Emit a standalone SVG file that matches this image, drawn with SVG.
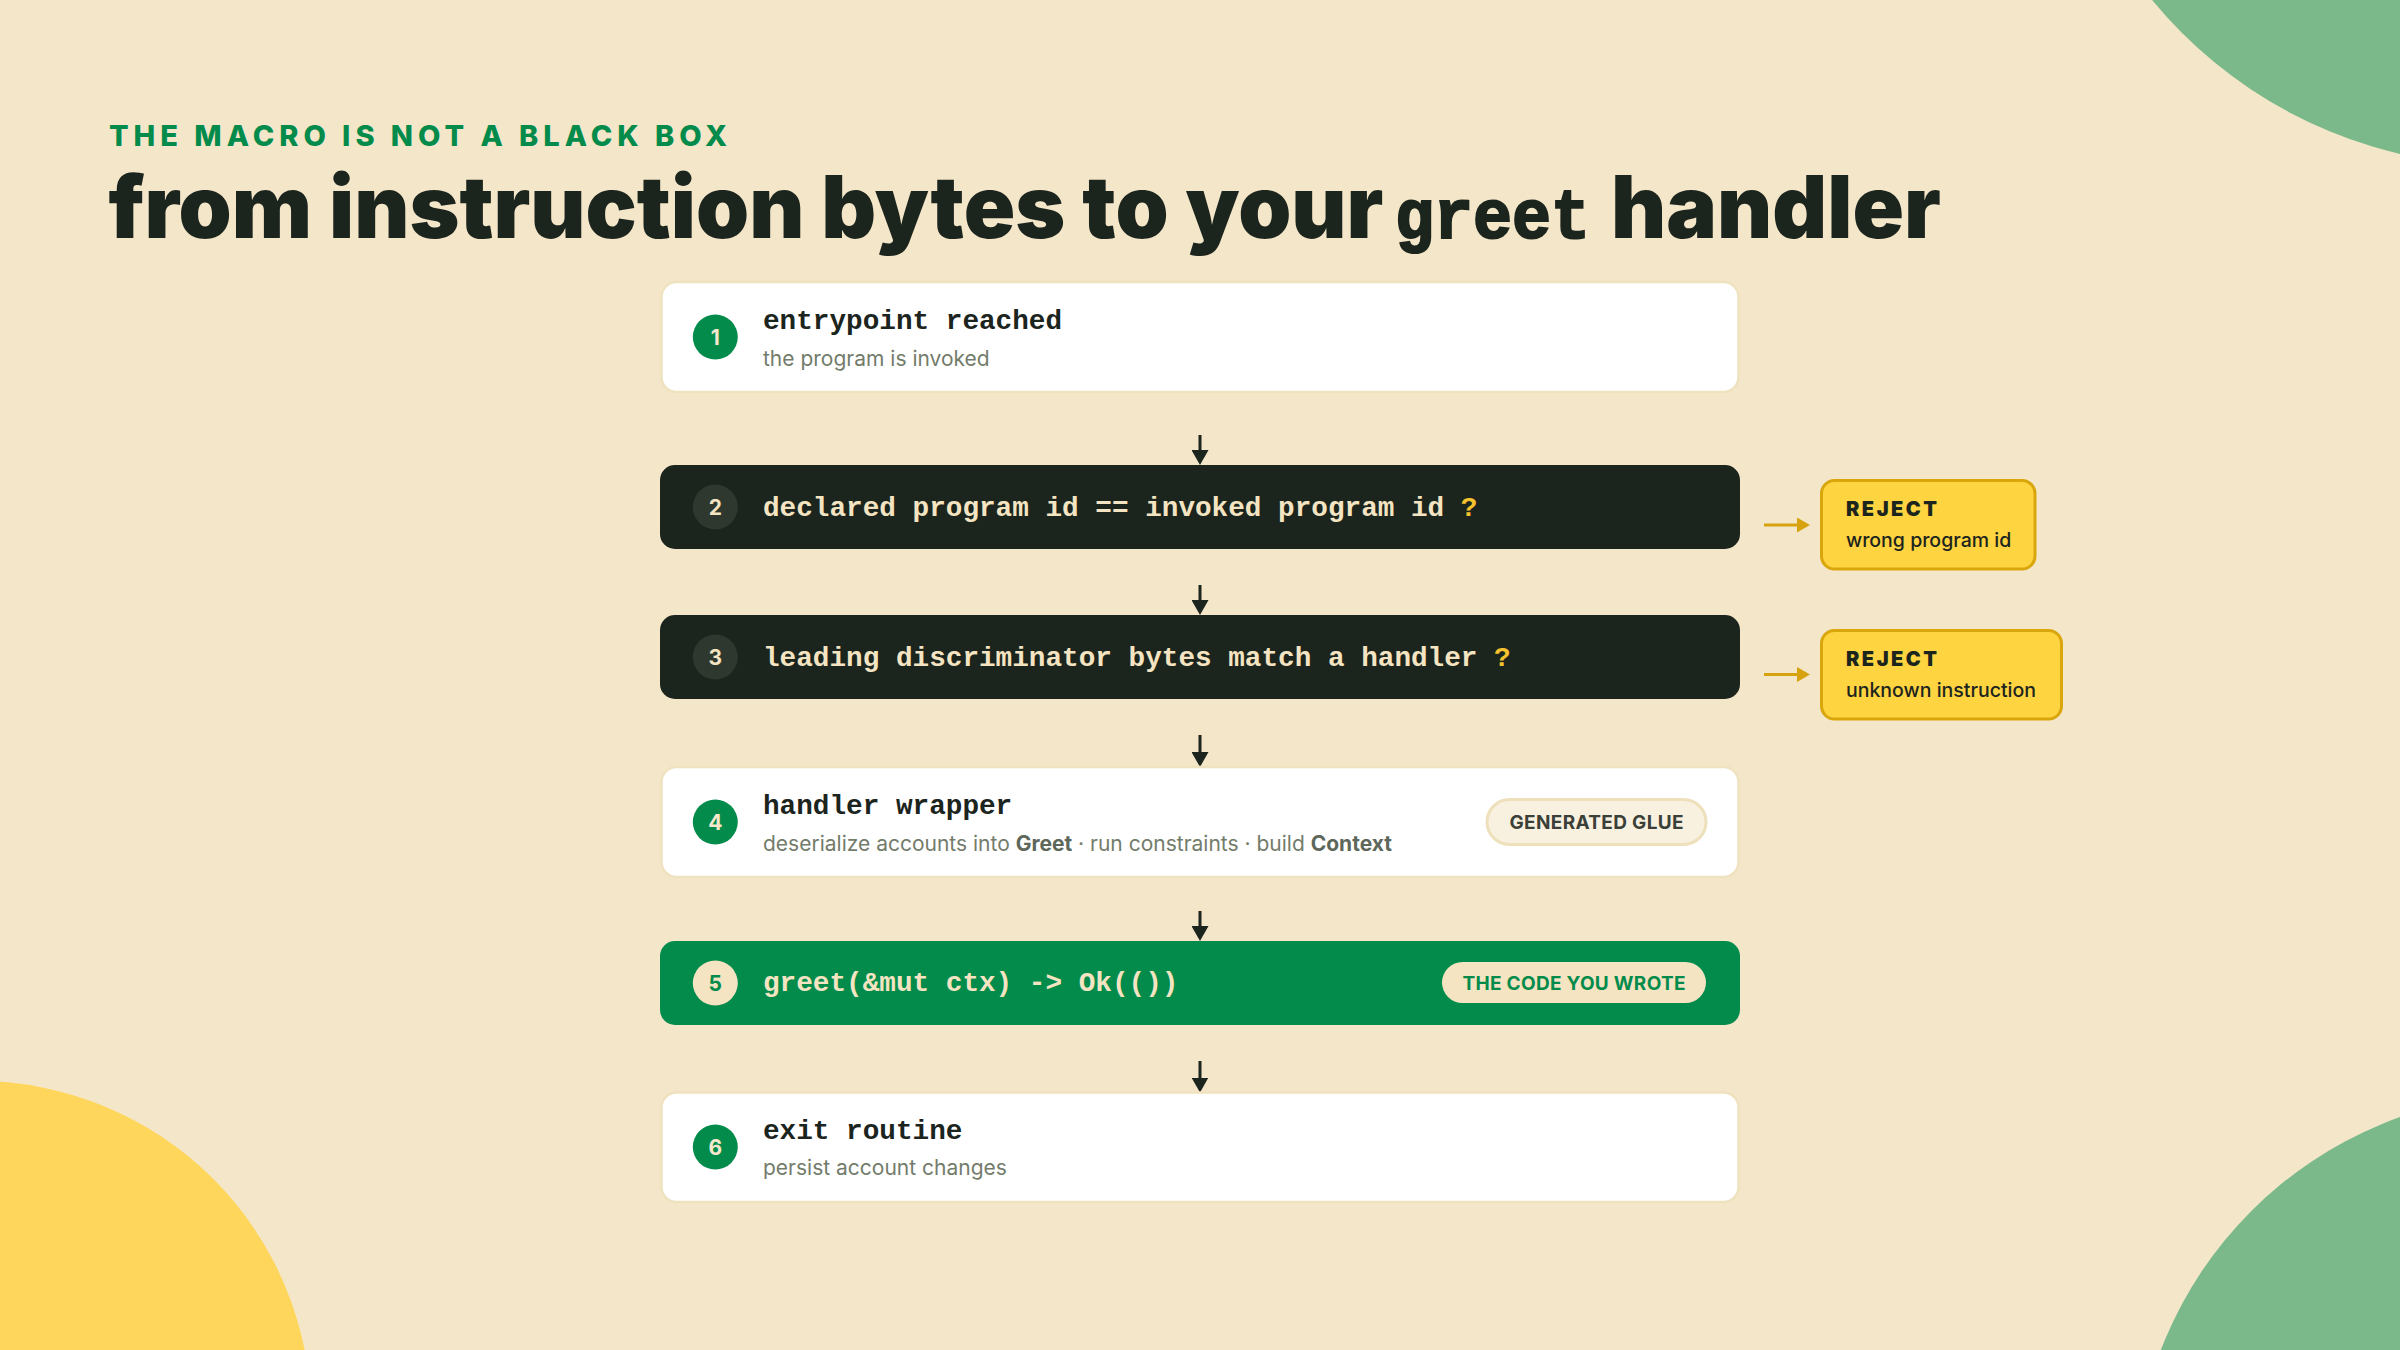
<svg xmlns="http://www.w3.org/2000/svg" width="2400" height="1350" viewBox="0 0 2400 1350">
<defs>
<style>
.bg{fill:#f4e6c8}
.card{fill:#ffffff;stroke:#efe2bf;stroke-width:2.5}
.dark{fill:#1c241e}
.green{fill:#038b4c}
.mono{font-family:"Liberation Mono","DejaVu Sans Mono",monospace;font-weight:700;font-size:27.7px}
.ttl{fill:#1c241e}
.ttlc{fill:#f4e4c2}
.sub{font-family:Inter,"Noto Sans",sans-serif;font-size:21px;fill:#737c6b}
.subb{font-weight:700;fill:#5d675a}
.num{font-family:Inter,"Noto Sans",sans-serif;font-weight:700;font-size:21px;text-anchor:middle}
.q{fill:#f5c12e}
.rej{fill:#fed440;stroke:#d9a60b;stroke-width:3}
.rejh{font-family:Inter,"Noto Sans",sans-serif;font-weight:900;font-size:20px;fill:#1c241e}
.rejt{font-family:Inter,"Noto Sans",sans-serif;font-weight:500;font-size:19.5px;fill:#1c241e}
.badge{font-family:Inter,"Noto Sans",sans-serif;font-weight:700;font-size:19px;text-anchor:middle}
.flow{stroke:#1c241e;stroke-width:3;fill:none}
.rflow{stroke:#d6a30f;stroke-width:3;fill:none}
</style>
<marker id="ah" markerUnits="userSpaceOnUse" markerWidth="17" markerHeight="17" refX="3" refY="8.5" orient="auto">
<path d="M0,0 L15,8.5 L0,17 Z" fill="#1c241e"/>
</marker>
<marker id="rah" markerUnits="userSpaceOnUse" markerWidth="14" markerHeight="15" refX="3" refY="7.5" orient="auto">
<path d="M0,0 L13,7.5 L0,15 Z" fill="#d6a30f"/>
</marker>
</defs>

<rect class="bg" x="0" y="0" width="2400" height="1350"/>
<circle cx="2504" cy="-290" r="456" fill="#7bb98b"/>
<circle cx="-23" cy="1415" r="334" fill="#fed65b"/>
<circle cx="2534" cy="1494" r="400" fill="#7bb98b"/>

<g id="title">
<text x="109" y="146" font-family="Inter,'Noto Sans',sans-serif" font-weight="800" font-size="29" fill="#038b4c" textLength="618" lengthAdjust="spacing">THE MACRO IS NOT A BLACK BOX</text>
<text x="108.5" y="238" font-family="Inter,'Noto Sans',sans-serif" font-weight="900" font-size="86" fill="#1c241e" textLength="1275" lengthAdjust="spacingAndGlyphs">from instruction bytes to your</text>
<text x="1395" y="238" font-family="'Liberation Mono','DejaVu Sans Mono',monospace" font-weight="700" font-size="70" fill="#1c241e" stroke="#1c241e" stroke-width="2.2" textLength="195" lengthAdjust="spacingAndGlyphs">greet</text>
<text x="1611" y="238" font-family="Inter,'Noto Sans',sans-serif" font-weight="900" font-size="86" fill="#1c241e" textLength="330" lengthAdjust="spacingAndGlyphs">handler</text>
</g>

<g id="connectors">
<line class="flow" x1="1200" y1="435" x2="1200" y2="453" marker-end="url(#ah)"/>
<line class="flow" x1="1200" y1="585" x2="1200" y2="603" marker-end="url(#ah)"/>
<line class="flow" x1="1200" y1="735" x2="1200" y2="755" marker-end="url(#ah)"/>
<line class="flow" x1="1200" y1="911" x2="1200" y2="929" marker-end="url(#ah)"/>
<line class="flow" x1="1200" y1="1061" x2="1200" y2="1080.5" marker-end="url(#ah)"/>
<line class="rflow" x1="1764" y1="525" x2="1800" y2="525" marker-end="url(#rah)"/>
<line class="rflow" x1="1764" y1="674.5" x2="1800" y2="674.5" marker-end="url(#rah)"/>
</g>

<g id="node1">
<rect class="card" x="661.5" y="282" width="1077" height="110" rx="15"/>
<circle cx="715.3" cy="337" r="22.5" fill="#038b4c"/>
<text class="num" x="715.3" y="344.5" fill="#f5e8cc">1</text>
<text class="mono ttl" x="763" y="329">entrypoint reached</text>
<text class="sub" x="763" y="366">the program is invoked</text>
</g>

<g id="node2">
<rect class="dark" x="660" y="465" width="1080" height="84" rx="15"/>
<circle cx="715.3" cy="507" r="22.5" fill="#2e382f"/>
<text class="num" x="715.3" y="514.5" fill="#f4e4c2">2</text>
<text class="mono ttlc" x="763" y="516">declared program id == invoked program id <tspan class="q">?</tspan></text>
</g>

<g id="reject1">
<rect class="rej" x="1821.5" y="480.5" width="213.5" height="88.5" rx="13"/>
<text class="rejh" x="1846" y="516" textLength="91" lengthAdjust="spacing">REJECT</text>
<text class="rejt" x="1846" y="547">wrong program id</text>
</g>

<g id="node3">
<rect class="dark" x="660" y="615" width="1080" height="84" rx="15"/>
<circle cx="715.3" cy="657" r="22.5" fill="#2e382f"/>
<text class="num" x="715.3" y="664.5" fill="#f4e4c2">3</text>
<text class="mono ttlc" x="763" y="666">leading discriminator bytes match a handler <tspan class="q">?</tspan></text>
</g>

<g id="reject2">
<rect class="rej" x="1821.5" y="630.5" width="240" height="88.5" rx="13"/>
<text class="rejh" x="1846" y="666" textLength="91" lengthAdjust="spacing">REJECT</text>
<text class="rejt" x="1846" y="697">unknown instruction</text>
</g>

<g id="node4">
<rect class="card" x="661.5" y="767" width="1077" height="110" rx="15"/>
<circle cx="715.3" cy="822" r="22.5" fill="#038b4c"/>
<text class="num" x="715.3" y="829.5" fill="#f5e8cc">4</text>
<text class="mono ttl" x="763" y="814">handler wrapper</text>
<text class="sub" x="763" y="851">deserialize accounts into <tspan class="subb">Greet</tspan> · run constraints · build <tspan class="subb">Context</tspan></text>
<rect x="1487" y="799.5" width="219" height="45" rx="22.5" fill="#f9f1e0" stroke="#eee0bb" stroke-width="3"/>
<text class="badge" x="1596.5" y="828.5" fill="#3a4038" textLength="174" lengthAdjust="spacing">GENERATED GLUE</text>
</g>

<g id="node5">
<rect class="green" x="660" y="941" width="1080" height="84" rx="15"/>
<circle cx="715.3" cy="983" r="22.5" fill="#f4e4c2"/>
<text class="num" x="715.3" y="990.5" fill="#038b4c">5</text>
<text class="mono ttlc" x="763" y="991">greet(&amp;mut ctx) -&gt; Ok(())</text>
<rect x="1442" y="962" width="264" height="41" rx="20.5" fill="#f4e4c2"/>
<text class="badge" x="1574" y="989.5" fill="#038b4c" textLength="223" lengthAdjust="spacing">THE CODE YOU WROTE</text>
</g>

<g id="node6">
<rect class="card" x="661.5" y="1092.5" width="1077" height="109.5" rx="15"/>
<circle cx="715.3" cy="1147" r="22.5" fill="#038b4c"/>
<text class="num" x="715.3" y="1154.5" fill="#f5e8cc">6</text>
<text class="mono ttl" x="763" y="1139">exit routine</text>
<text class="sub" x="763" y="1175">persist account changes</text>
</g>
</svg>
